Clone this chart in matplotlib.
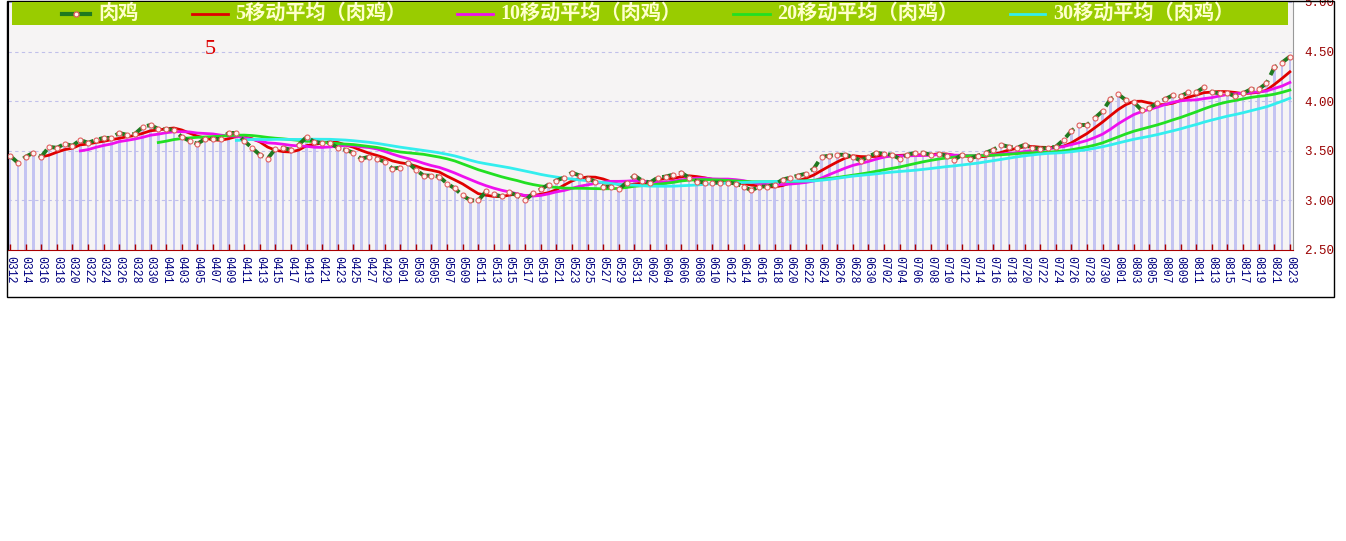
import numpy as np
import pandas as pd
import matplotlib
matplotlib.use("Agg")
import matplotlib.pyplot as plt
from matplotlib.patches import Rectangle
from matplotlib.lines import Line2D

# daily broiler (肉鸡) price, 03-12 .. 08-23
dates = pd.date_range("2023-03-12", "2023-08-23", freq="D")
date_labels = [d.strftime("%m%d") for d in dates]

price = [
    3.45, 3.38, 3.44, 3.48, 3.44, 3.54, 3.53, 3.57, 3.55, 3.61,
    3.58, 3.61, 3.63, 3.63, 3.68, 3.66, 3.67, 3.74, 3.76, 3.72,
    3.72, 3.71, 3.64, 3.60, 3.57, 3.62, 3.62, 3.62, 3.68, 3.68,
    3.60, 3.53, 3.46, 3.42, 3.52, 3.53, 3.51, 3.56, 3.64, 3.59,
    3.58, 3.58, 3.53, 3.51, 3.48, 3.42, 3.44, 3.42, 3.39, 3.32,
    3.33, 3.38, 3.31, 3.25, 3.25, 3.24, 3.17, 3.12, 3.05, 3.00,
    3.00, 3.09, 3.06, 3.04, 3.08, 3.05, 3.00, 3.07, 3.11, 3.16,
    3.20, 3.23, 3.28, 3.25, 3.22, 3.19, 3.14, 3.14, 3.11, 3.18,
    3.25, 3.20, 3.18, 3.23, 3.24, 3.26, 3.28, 3.23, 3.19, 3.18,
    3.18, 3.18, 3.18, 3.17, 3.14, 3.10, 3.14, 3.14, 3.16, 3.21,
    3.23, 3.25, 3.27, 3.32, 3.44, 3.45, 3.46, 3.46, 3.44, 3.40,
    3.44, 3.48, 3.47, 3.46, 3.42, 3.46, 3.48, 3.48, 3.46, 3.47,
    3.45, 3.41, 3.46, 3.42, 3.45, 3.48, 3.51, 3.56, 3.54, 3.53,
    3.56, 3.53, 3.52, 3.53, 3.54, 3.61, 3.70, 3.76, 3.76, 3.83,
    3.90, 4.02, 4.07, 4.01, 3.99, 3.91, 3.93, 3.98, 4.02, 4.06,
    4.05, 4.09, 4.09, 4.14, 4.09, 4.08, 4.08, 4.05, 4.08, 4.12,
    4.12, 4.18, 4.34, 4.39, 4.45,
]

ma_windows = [5, 10, 20, 30]
ma_colors = ["#e00000", "#ee10ee", "#22e022", "#33eeee"]
series_names = ["肉鸡", "5移动平均（肉鸡）", "10移动平均（肉鸡）",
                "20移动平均（肉鸡）", "30移动平均（肉鸡）"]
y_ticks = [2.5, 3.0, 3.5, 4.0, 4.5, 5.0]

x = np.arange(len(price))
s = pd.Series(price)

W, H = 1346, 541
fig = plt.figure(figsize=(W / 100, H / 100), dpi=100)
fig.patch.set_facecolor("white")

# plot area in pixels: left 8, right 1293, top 2, bottom 250
ax = fig.add_axes([8 / W, 1 - 250 / H, (1293 - 8) / W, 248 / H])
ax.set_facecolor("#f6f4f4")

ax.bar(x, np.array(price) - 2.5, bottom=2.5, width=0.34,
       color="#c4c4f2", zorder=1)

for yv in y_ticks[1:]:
    ax.axhline(yv, color="#c0c0ea", lw=0.8, ls=(0, (3, 3)), zorder=1.5)

for w, c in zip(ma_windows, ma_colors):
    ax.plot(x, s.rolling(w).mean(), color=c, lw=2, zorder=3)

ax.plot(x, price, color="#1f7a1f", lw=2.8, ls=(0, (3, 1.5)), zorder=4)
ax.plot(x, price, ls="none", marker="o", ms=3.6, mfc="#fff4f0",
        mec="#e06060", mew=0.8, zorder=5)

ax.text(25.6, 4.52, "5", color="#dd0000", fontsize=16,
        family="Liberation Serif", ha="center", va="center", zorder=6)

ax.set_xlim(-0.26, 164.4)
ax.set_ylim(2.5, 5.0)

ax.yaxis.tick_right()
ax.set_yticks(y_ticks)
ax.set_yticklabels([f"{v:.2f}" for v in y_ticks], family="Liberation Mono",
                   fontsize=9, color="#990000")
ax.tick_params(axis="y", length=0, pad=8)

ax.set_xticks(x[::2])
ax.set_xticklabels(date_labels[::2], rotation=-90, family="Liberation Mono",
                   fontsize=8.3, color="#000080")
ax.tick_params(axis="x", direction="in", length=4, color="#aa0000",
               width=1, pad=4)

ax.spines["top"].set_visible(False)
ax.spines["left"].set_color("black")
ax.spines["right"].set_color("#999999")
ax.spines["bottom"].set_color("#aa0000")

# outer frame
fig.add_artist(Rectangle((7 / W, 1 - 297 / H), (1334 - 7) / W, 296 / H,
                         transform=fig.transFigure, fill=False,
                         ec="black", lw=1))

# legend strip
fig.add_artist(Rectangle((12 / W, 1 - 25 / H), (1288 - 12) / W, 23 / H,
                         transform=fig.transFigure, fc="#99cc00",
                         ec="none", zorder=10))
yc = 1 - 13.5 / H
sample_x = [(62, 90), (192, 228), (457, 493), (733, 770), (1010, 1045)]
text_x = [98, 235, 500, 777, 1053]
sample_colors = ["#1f7a1f"] + ma_colors
for i, name in enumerate(series_names):
    x0, x1 = sample_x[i]
    ln = Line2D([x0 / W, x1 / W], [yc, yc], transform=fig.transFigure,
                color=sample_colors[i], lw=3 if i == 0 else 2, zorder=11)
    fig.add_artist(ln)
    if i == 0:
        fig.add_artist(Line2D([(x0 + x1) / 2 / W], [yc], transform=fig.transFigure,
                              marker="o", ms=3.6, mfc="#fff4f0", mec="#e06060",
                              ls="none", zorder=12))
    fig.text(text_x[i] / W, yc, name, color="#ffffcc", fontsize=14.5,
             fontweight="bold", family=["Liberation Serif", "Noto Sans CJK SC"],
             ha="left", va="center", zorder=12)

fig.savefig("out.png", dpi=100)
